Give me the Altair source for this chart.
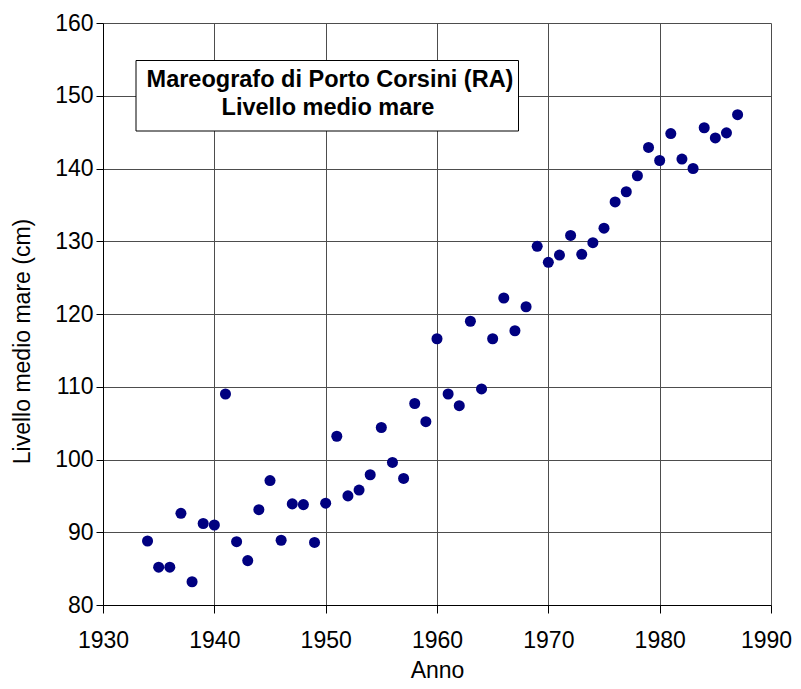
import altair as alt
import pandas as pd

years = list(range(1934, 1988))
levels = [
    88.8, 85.2, 85.2, 92.6, 83.2, 91.2, 91.0, 109.0, 88.7, 86.1,
    93.1, 97.1, 88.9, 93.9, 93.8, 88.6, 94.0, 103.2, 95.0, 95.8,
    97.9, 104.4, 99.6, 97.4, 107.7, 105.2, 116.6, 109.0, 107.4, 119.0,
    109.7, 116.6, 122.2, 117.7, 121.0, 129.3, 127.1, 128.1, 130.8, 128.2,
    129.8, 131.8, 135.4, 136.8, 139.0, 142.9, 141.1, 144.8, 141.3, 140.0,
    145.6, 144.2, 144.9, 147.4,
]
x_ticks = [1930, 1940, 1950, 1960, 1970, 1980, 1990]
y_ticks = [80, 90, 100, 110, 120, 130, 140, 150, 160]
title_lines = ["Mareografo di Porto Corsini (RA)", "Livello medio mare"]

df = pd.DataFrame({"Anno": years, "Livello": levels})

FONT = "Liberation Sans"
FS = 23
GRID = "#4d4d4d"

points = alt.Chart(df).mark_circle(size=122, color="#000080", opacity=1).encode(
    x=alt.X("Anno:Q",
            scale=alt.Scale(domain=[1930, 1990], nice=False, zero=False),
            axis=alt.Axis(values=x_ticks, format="d", title="Anno",
                          tickSize=8, labelPadding=16, labelFlush=False,
                          labelOffset={"condition": {"test": "datum.value == 1990", "value": -5}, "value": 0},
                          titleY=72, titleBaseline="alphabetic",
                          grid=True)),
    y=alt.Y("Livello:Q",
            scale=alt.Scale(domain=[80, 160], nice=False, zero=False),
            axis=alt.Axis(values=y_ticks, title="Livello medio mare (cm)",
                          tickSize=7, labelPadding=3, labelFlush=False,
                          titleX=-74, titleY=318, titleAngle=270,
                          titleBaseline="alphabetic", titleAlign="center",
                          grid=True)),
)

box_df = pd.DataFrame({"k": [0]})
box = alt.Chart(box_df).mark_rect(fill="white", stroke="black", strokeWidth=1).encode(
    x=alt.value(33), x2=alt.value(415.5), y=alt.value(37.5), y2=alt.value(108)
)
t1 = alt.Chart(pd.DataFrame({"t": [title_lines[0]]})).mark_text(
    font=FONT, fontSize=23.5, fontWeight="bold", color="black",
    align="center", baseline="alphabetic"
).encode(text="t:N", x=alt.value(227), y=alt.value(64))
t2 = alt.Chart(pd.DataFrame({"t": [title_lines[1]]})).mark_text(
    font=FONT, fontSize=23.5, fontWeight="bold", color="black",
    align="center", baseline="alphabetic"
).encode(text="t:N", x=alt.value(225), y=alt.value(92))

chart = alt.layer(points, box, t1, t2).properties(
    width=668, height=582,
    autosize=alt.AutoSizeParams(type="none"),
    padding={"left": 95, "top": 15, "right": 22, "bottom": 76},
).configure_view(stroke=None).configure_axis(
    labelFont=FONT, titleFont=FONT, labelFontSize=FS, titleFontSize=FS,
    labelColor="black", titleColor="black", titleFontWeight="normal",
    domainColor="black", tickColor="black", gridColor=GRID,
    domainWidth=1, tickWidth=1, gridWidth=1,
)

chart.save("out.html", embed_options={"renderer": "svg", "actions": False})
